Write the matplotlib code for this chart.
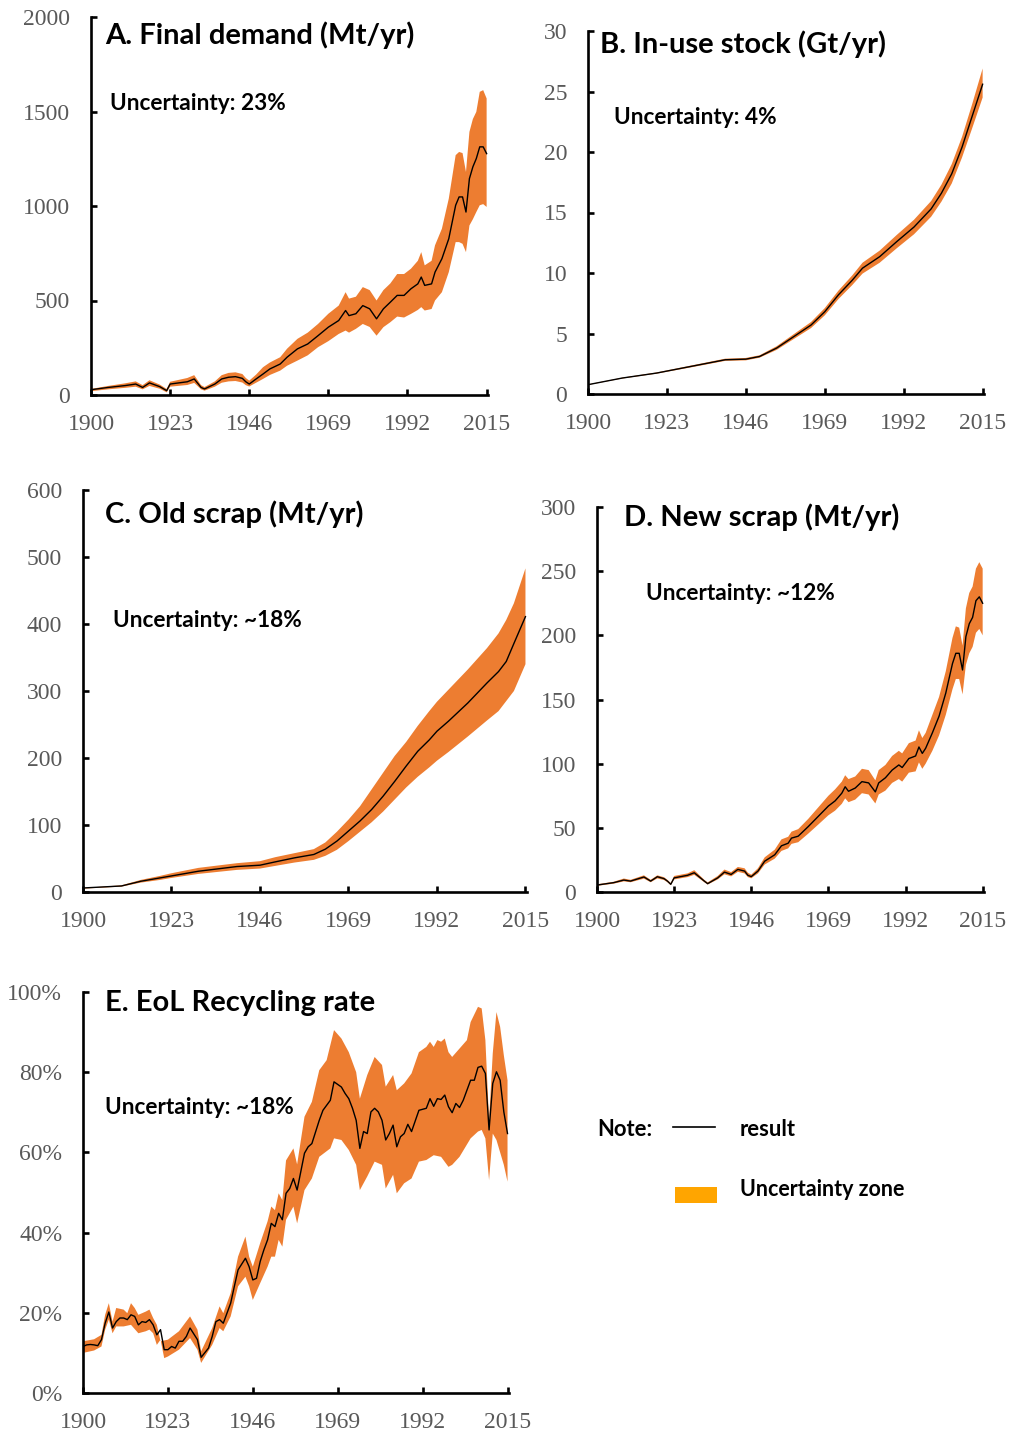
import numpy as np
import matplotlib
matplotlib.use("Agg")
import matplotlib.pyplot as plt
from matplotlib.lines import Line2D
from matplotlib.patches import Rectangle

########## DATA ##########

x_ticks = [1900, 1923, 1946, 1969, 1992, 2015]

# A. Final demand (Mt/yr)
a_years = [1900, 1905, 1910, 1913, 1915, 1917, 1920, 1922, 1923, 1928, 1930, 1932, 1933, 1936,
           1938, 1940, 1942, 1944, 1945, 1946, 1948, 1950, 1952, 1955, 1957, 1960, 1963, 1966,
           1969, 1972, 1974, 1975, 1977, 1979, 1981, 1983, 1985, 1987, 1989, 1991, 1993, 1995,
           1996, 1997, 1999, 2000, 2002, 2004, 2006, 2007, 2008, 2009, 2010, 2011, 2012, 2013,
           2014, 2015]
a_mid = [28, 40, 50, 58, 40, 64, 44, 23, 58, 70, 85, 40, 32, 58, 85, 94, 97, 88, 70, 58, 85, 111,
         138, 164, 200, 244, 270, 314, 359, 394, 447, 420, 430, 473, 456, 403, 456, 491, 527, 527,
         562, 588, 624, 580, 588, 650, 721, 827, 1004, 1048, 1048, 968, 1145, 1207, 1251, 1313,
         1313, 1277]
a_up = [32, 48, 62, 72, 52, 78, 55, 32, 70, 90, 105, 52, 42, 72, 105, 117, 120, 111, 90, 76, 108,
        147, 172, 200, 245, 297, 330, 376, 430, 473, 544, 510, 520, 571, 555, 500, 555, 590, 640,
        640, 668, 710, 756, 686, 710, 792, 880, 1039, 1269, 1286, 1280, 1180, 1392, 1460, 1498,
        1604, 1613, 1569]
a_lo = [20, 30, 38, 44, 30, 48, 33, 14, 44, 53, 64, 30, 23, 44, 65, 72, 74, 66, 52, 45, 65, 85,
        106, 129, 155, 182, 210, 253, 285, 323, 341, 330, 350, 376, 360, 314, 359, 385, 415, 410,
        429, 450, 465, 447, 455, 500, 544, 650, 809, 809, 800, 756, 897, 930, 968, 1004, 1010, 995]

# B. In-use stock (Gt/yr)
b_years = [1900, 1910, 1920, 1930, 1940, 1946, 1950, 1955, 1960, 1965, 1969, 1973, 1977, 1980,
           1985, 1990, 1995, 2000, 2003, 2006, 2009, 2012, 2015]
b_mid = [0.77, 1.32, 1.73, 2.28, 2.83, 2.88, 3.1, 3.8, 4.75, 5.7, 6.8, 8.2, 9.4, 10.4, 11.35, 12.6,
         13.8, 15.3, 16.6, 18.2, 20.4, 23.0, 25.6]
b_up = [0.79, 1.35, 1.78, 2.35, 2.92, 2.98, 3.2, 3.95, 4.95, 5.95, 7.1, 8.55, 9.8, 10.85, 11.85,
        13.15, 14.4, 15.95, 17.3, 19.0, 21.25, 24.0, 26.9]
b_lo = [0.75, 1.28, 1.68, 2.2, 2.74, 2.78, 3.0, 3.65, 4.55, 5.45, 6.5, 7.85, 9.0, 9.95, 10.85,
        12.05, 13.2, 14.65, 15.9, 17.4, 19.55, 22.0, 24.5]

# C. Old scrap (Mt/yr)
c_years = [1900, 1910, 1915, 1920, 1923, 1930, 1940, 1946, 1950, 1955, 1960, 1963, 1966, 1969,
           1972, 1975, 1978, 1981, 1984, 1987, 1990, 1992, 1995, 2000, 2005, 2008, 2010, 2012, 2015]
c_mid = [6, 9, 16, 21, 24, 31, 38, 40, 45, 51, 56, 64, 76, 91, 106, 123, 143, 165, 188, 210, 227,
         240, 255, 282, 312, 329, 344, 371, 411]
c_up = [6, 10, 18, 24, 28, 36, 43, 46, 52, 58, 64, 74, 90, 108, 128, 153, 178, 203, 224, 248, 270,
        284, 302, 332, 364, 386, 406, 431, 483]
c_lo = [5, 8, 14, 18, 21, 27, 33, 35, 39, 44, 48, 54, 63, 76, 90, 104, 120, 138, 156, 172, 186,
        196, 209, 232, 256, 270, 285, 300, 340]

# D. New scrap (Mt/yr)
d_years = [1900, 1905, 1908, 1910, 1914, 1916, 1918, 1920, 1921, 1922, 1923, 1927, 1929, 1932,
           1933, 1936, 1938, 1940, 1942, 1944, 1945, 1946, 1948, 1950, 1953, 1955, 1957, 1958,
           1960, 1963, 1966, 1969, 1971, 1973, 1974, 1975, 1977, 1979, 1981, 1983, 1984, 1986,
           1988, 1990, 1991, 1993, 1995, 1996, 1997, 1998, 2000, 2002, 2004, 2006, 2007, 2008,
           2009, 2010, 2011, 2012, 2013, 2014, 2015]
d_mid = [5.4, 7.3, 9.3, 8.5, 11.7, 8.5, 11.9, 10.4, 8.5, 6, 11, 13, 15, 8.5, 6.5, 11, 15.5, 13.7,
         17.6, 16.3, 13, 12, 16.3, 24, 29, 36, 38, 42, 43.5, 51, 59, 67, 71, 77, 82, 78.5, 81, 86,
         85, 78, 85, 89, 95, 99, 97, 104, 106, 113, 108, 112, 124, 137, 155, 178, 186, 186, 173,
         199, 209, 214, 227, 230, 225]
d_up = [6, 8, 10.5, 9.5, 13, 9.5, 13, 11.5, 9.5, 7, 12.5, 14.5, 17, 9.5, 7.5, 12.5, 17.5, 15.5,
        19.5, 18.5, 15, 13.5, 18.5, 27, 33, 41, 43, 47, 49, 57, 66, 75, 80, 86, 91, 88, 90, 96, 95,
        87, 95, 99, 106, 110, 108, 116, 118, 126, 120, 124, 138, 152, 172, 198, 207, 206, 192,
        221, 233, 238, 252, 257, 252]
d_lo = [4.8, 6.5, 8.3, 7.6, 10.4, 7.6, 10.6, 9.3, 7.6, 5.3, 9.8, 11.6, 13.4, 7.6, 5.8, 9.8, 13.8,
        12.2, 15.7, 14.5, 11.6, 10.7, 14.5, 21.4, 26, 32, 34, 37.5, 38.8, 45.5, 52.6, 59.8, 63.4,
        68.7, 73, 70, 72, 77, 76, 69, 76, 79, 85, 88, 86, 93, 94, 101, 96, 100, 110, 122, 138, 158,
        166, 166, 154, 177, 186, 191, 202, 205, 200]

# E. EoL Recycling rate (%)
e_years = [1900, 1901, 1902, 1903, 1904, 1905, 1906, 1907, 1908, 1909, 1910, 1911, 1912, 1913,
           1914, 1915, 1916, 1917, 1918, 1919, 1920, 1921, 1922, 1923, 1924, 1925, 1926, 1927,
           1928, 1929, 1931, 1932, 1934, 1935, 1936, 1937, 1938, 1940, 1941, 1942, 1944, 1945,
           1946, 1947, 1948, 1949, 1950, 1951, 1952, 1953, 1954, 1955, 1956, 1957, 1958, 1960,
           1961, 1962, 1964, 1965, 1967, 1968, 1970, 1971, 1972, 1973, 1974, 1975, 1976, 1977,
           1978, 1979, 1980, 1981, 1982, 1983, 1984, 1985, 1986, 1987, 1988, 1989, 1991, 1993,
           1994, 1995, 1996, 1997, 1998, 1999, 2000, 2001, 2002, 2003, 2005, 2006, 2007, 2008,
           2009, 2010, 2011, 2012, 2013, 2014, 2015]
e_mid = [11.6, 12.0, 12.1, 12.0, 11.8, 13.3, 17.4, 20.2, 16.2, 17.8, 18.7, 18.7, 18.3, 19.5, 19.1,
         17.0, 17.8, 17.6, 18.3, 17.0, 14.5, 15.8, 10.8, 10.8, 11.6, 11.2, 12.9, 12.9, 14.1, 16.2,
         13.3, 8.9, 11.2, 14.1, 17.8, 18.3, 17.4, 22.4, 26.6, 30.7, 33.6, 31.5, 28.2, 28.6, 32.8,
         35.7, 38.2, 42.3, 41.5, 44.8, 43.2, 49.8, 51.0, 53.5, 50.6, 59.8, 61.4, 62.2, 68.0, 70.5,
         73.0, 77.6, 76.3, 74.7, 73.4, 71.0, 68.0, 61.0, 65.2, 64.7, 70.1, 71.0, 70.1, 68.0, 63.1,
         64.7, 66.8, 61.4, 63.9, 64.7, 67.0, 65.2, 70.5, 71.0, 73.4, 71.5, 73.4, 73.2, 74.3, 71.4,
         69.9, 72.2, 71.2, 73.0, 78.0, 78.0, 81.2, 81.5, 79.7, 65.6, 77.2, 80.1, 78.0, 70.1, 64.7]
e_up_years = [1900, 1903, 1905, 1906, 1907, 1908, 1909, 1911, 1912, 1913, 1914, 1915, 1917, 1918,
              1919, 1920, 1921, 1923, 1926, 1929, 1931, 1932, 1935, 1937, 1938, 1940, 1942, 1944,
              1945, 1946, 1948, 1950, 1951, 1952, 1953, 1954, 1955, 1957, 1958, 1960, 1962, 1964,
              1966, 1968, 1970, 1972, 1974, 1975, 1977, 1979, 1981, 1982, 1984, 1985, 1987, 1989,
              1991, 1993, 1994, 1995, 1996, 1997, 1998, 1999, 2000, 2002, 2004, 2005, 2007, 2008,
              2009, 2010, 2011, 2012, 2013, 2014, 2015]
e_up = [12.9, 13.4, 14.5, 19.5, 22.4, 17.8, 21.2, 20.8, 19.9, 22.4, 21.2, 19.5, 20.3, 20.8, 18.7,
        17.0, 12.9, 13.3, 15.4, 19.1, 15.8, 10.4, 16.2, 21.6, 19.9, 24.9, 34.0, 39.0, 34.0, 31.5,
        37.4, 42.8, 46.5, 45.6, 49.8, 48.1, 58.0, 61.0, 57.0, 68.9, 72.6, 80.5, 83.0, 90.5, 88.4,
        85.0, 80.0, 73.4, 79.3, 83.8, 81.8, 76.4, 79.3, 75.5, 77.2, 79.7, 85.0, 86.3, 87.6, 86.3,
        88.0, 87.6, 88.4, 85.0, 83.8, 85.9, 88.0, 92.5, 96.3, 95.9, 88.0, 68.0, 84.7, 95.0, 91.3,
        84.2, 78.0]
e_lo_years = [1900, 1903, 1905, 1906, 1907, 1908, 1909, 1911, 1913, 1915, 1917, 1918, 1919, 1920,
              1921, 1922, 1923, 1926, 1929, 1931, 1932, 1935, 1937, 1938, 1940, 1942, 1944, 1945,
              1946, 1948, 1950, 1951, 1952, 1953, 1954, 1955, 1957, 1958, 1960, 1962, 1964, 1967,
              1968, 1970, 1972, 1974, 1975, 1977, 1979, 1981, 1982, 1984, 1985, 1987, 1989, 1991,
              1993, 1995, 1997, 1999, 2000, 2002, 2005, 2007, 2008, 2009, 2010, 2011, 2012, 2014,
              2015]
e_lo = [10.0, 10.6, 11.6, 15.8, 18.3, 14.9, 16.6, 16.6, 17.0, 14.9, 15.4, 15.8, 14.9, 12.0, 13.3,
        8.7, 9.1, 10.8, 13.7, 10.8, 7.5, 12.0, 16.2, 15.4, 19.1, 26.6, 29.0, 26.6, 23.2, 27.4,
        31.5, 34.0, 34.0, 38.2, 36.5, 43.2, 46.5, 42.3, 50.6, 53.5, 58.9, 61.0, 63.5, 63.1, 60.6,
        56.9, 50.6, 54.0, 57.7, 56.9, 51.0, 54.4, 49.8, 52.3, 53.5, 57.7, 58.1, 59.3, 58.9, 56.4,
        56.9, 58.9, 63.5, 65.2, 65.6, 63.5, 53.1, 64.7, 63.1, 56.9, 52.7]

########## STYLE ##########

W, H = 1012, 1432
orange = "#ED7D31"
tick_grey = "#595959"
serif = "Liberation Serif"
sans = "Lato"

fig = plt.figure(figsize=(W / 100, H / 100), dpi=100)


def px_axes(left, right, top, bottom):
    # axes box from pixel edges of the reference
    return fig.add_axes([left / W, 1 - bottom / H, (right - left) / W, (bottom - top) / H])


def panel(ax, years, mid, up_years, up, lo_years, lo, ymax, ystep, pct=False):
    ax.fill(np.r_[up_years, lo_years[::-1]], np.r_[up, lo[::-1]], color=orange, lw=0)
    ax.plot(years, mid, color="black", lw=1.0)
    ax.set_xlim(1900, 2015.4)
    ax.set_ylim(0, ymax)
    ax.set_xticks(x_ticks)
    yt = np.arange(0, ymax + ystep / 2, ystep)
    ax.set_yticks(yt)
    if pct:
        ax.set_yticklabels([f"{int(v)}%" for v in yt])
    for s in ["top", "right"]:
        ax.spines[s].set_visible(False)
    for s in ["left", "bottom"]:
        ax.spines[s].set_linewidth(1.9)
    ax.tick_params(direction="in", length=4.5, width=1.9, labelsize=17,
                   labelcolor=tick_grey)
    ax.tick_params(axis="x", pad=14)
    ax.tick_params(axis="y", pad=15)
    for lab in ax.get_xticklabels() + ax.get_yticklabels():
        lab.set_fontfamily(serif)
    ax.patch.set_alpha(0)


def label(x, y, s, size):
    fig.text(x / W, 1 - y / H, s, fontsize=size, fontweight="bold", family=sans,
             ha="left", va="center", color="black")


axA = px_axes(91, 488, 17, 395)
panel(axA, a_years, a_mid, a_years, a_up, a_years, a_lo, 2000, 500)
axB = px_axes(588, 984, 31, 394)
panel(axB, b_years, b_mid, b_years, b_up, b_years, b_lo, 30, 5)
axC = px_axes(83, 527, 490, 892)
panel(axC, c_years, c_mid, c_years, c_up, c_years, c_lo, 600, 100)
axD = px_axes(597, 984, 507, 892)
panel(axD, d_years, d_mid, d_years, d_up, d_years, d_lo, 300, 50)
axE = px_axes(83, 509, 992, 1393)
panel(axE, e_years, e_mid, e_up_years, e_up, e_lo_years, e_lo, 100, 20, pct=True)

title_size = 21
unc_size = 16.3
label(105, 35, "A. Final demand (Mt/yr)", title_size)
label(110, 104, "Uncertainty: 23%", unc_size)
label(600, 44, "B. In-use stock (Gt/yr)", title_size)
label(614, 118, "Uncertainty: 4%", unc_size)
label(105, 514, "C. Old scrap (Mt/yr)", title_size)
label(113, 620, "Uncertainty: ~18%", unc_size)
label(624, 517, "D. New scrap (Mt/yr)", title_size)
label(646, 594, "Uncertainty: ~12%", unc_size)
label(105, 1003, "E. EoL Recycling rate", title_size)
label(105, 1108, "Uncertainty: ~18%", unc_size)

# note / legend box
label(597, 1129, "Note:", 15.8)
label(740, 1129, "result", 15.8)
label(740, 1189, "Uncertainty zone", 15.5)
fig.add_artist(Line2D([673 / W, 715 / W], [1 - 1127 / H, 1 - 1127 / H],
                      color="black", lw=1.2, transform=fig.transFigure))
fig.add_artist(Rectangle((675 / W, 1 - 1203 / H), 42 / W, 16 / H, color="#FFA500",
                         lw=0, transform=fig.transFigure))

fig.savefig("out.png", dpi=100)
